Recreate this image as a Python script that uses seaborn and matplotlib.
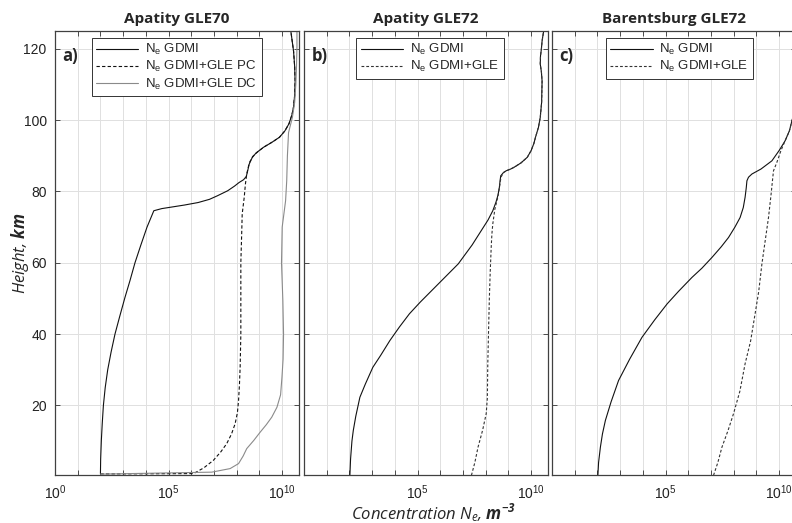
import numpy as np
import pandas as pd
from matplotlib import pyplot as plt
from matplotlib.ticker import FixedLocator, FuncFormatter, NullLocator
import seaborn as sns

# heights in km, concentrations as log10(N_e, m^-3)
a_gdmi_h = [0.9, 5, 10.2, 15, 20, 25, 30, 35, 40, 45, 50.3, 55, 60, 65, 70, 74.6, 75.2, 75.7,
            76.2, 76.9, 77.8, 78.8, 80.2, 81.5, 82.5, 83.3, 84.2, 85.5, 87.7, 89.5, 90.8, 92.4,
            93.8, 95.2, 97, 99, 101.5, 103.7, 107, 111, 115, 119.4, 125]
a_gdmi = [2.0, 2.01, 2.04, 2.08, 2.13, 2.21, 2.32, 2.47, 2.64, 2.85, 3.08, 3.3, 3.52, 3.78, 4.05,
          4.35, 4.7, 5.2, 5.7, 6.3, 6.8, 7.15, 7.6, 7.9, 8.1, 8.3, 8.42, 8.47, 8.55, 8.68, 8.85,
          9.18, 9.55, 9.88, 10.12, 10.3, 10.43, 10.5, 10.55, 10.57, 10.55, 10.5, 10.38]
a_pc_h = [0.8, 0.9, 2.5, 4.6, 7, 9.3, 12, 14.9, 18, 21.4, 26, 30.8, 40, 50, 60, 68.7, 73.7, 78.4,
          82, 84.9, 88, 89.8, 91, 92.4, 93.8, 95.2, 97, 99, 101.5, 103.7, 107, 111, 115, 119.4, 125]
a_pc = [2.0, 6.1, 6.55, 6.97, 7.3, 7.56, 7.77, 7.93, 8.03, 8.08, 8.12, 8.15, 8.18, 8.18, 8.18,
        8.22, 8.24, 8.33, 8.38, 8.44, 8.55, 8.7, 8.9, 9.18, 9.55, 9.88, 10.12, 10.3, 10.43, 10.5,
        10.55, 10.57, 10.55, 10.5, 10.38]
a_dc_h = [0.75, 1.3, 2.3, 3.7, 5.8, 7.9, 10.2, 12.5, 14.6, 16.7, 19.5, 23, 27.9, 33, 40, 49.4,
          60, 70, 77.4, 83, 90, 96.5, 100.8, 105, 110, 115, 120.4, 125]
a_dc = [2.0, 6.9, 7.71, 8.08, 8.28, 8.44, 8.75, 9.03, 9.3, 9.54, 9.77, 9.93, 9.99, 10.04, 10.06,
        10.03, 9.97, 10.0, 10.15, 10.2, 10.23, 10.28, 10.45, 10.55, 10.6, 10.63, 10.65, 10.65]

b_gdmi_h = [0.4, 5, 10, 13, 17, 22.3, 26, 30.7, 34, 38.2, 42, 45.7, 49, 53.1, 59.7, 65, 69, 72,
            74.6, 77, 79, 81.2, 83, 84.4, 85.3, 85.8, 86.3, 86.8, 88, 89.6, 91.5, 93.5, 95.2, 98,
            100.8, 105, 111, 113.5, 115.7, 118, 120, 122.2, 125]
b_gdmi = [2.02, 2.05, 2.11, 2.17, 2.28, 2.46, 2.7, 3.03, 3.37, 3.78, 4.2, 4.64, 5.12, 5.76,
          6.79, 7.4, 7.8, 8.1, 8.31, 8.45, 8.54, 8.6, 8.63, 8.66, 8.78, 8.9, 9.1, 9.25, 9.55, 9.83,
          10.0, 10.12, 10.19, 10.32, 10.4, 10.46, 10.48, 10.45, 10.4, 10.41, 10.45, 10.48, 10.55]
b_gle_h = [0.4, 4, 8.3, 13, 17.7, 22, 31.7, 40, 50.3, 58, 64.3, 68, 70.9, 75, 78.4, 81, 84,
           85.3, 85.8, 86.3, 86.8, 88, 89.6, 91.5, 93.5, 95.2, 98, 100.8, 105, 111, 113.5, 115.7,
           118, 120, 122.2, 125]
b_gle = [7.37, 7.52, 7.66, 7.86, 8.02, 8.07, 8.09, 8.12, 8.16, 8.2, 8.24, 8.27, 8.31, 8.4, 8.53,
         8.6, 8.67, 8.78, 8.9, 9.1, 9.25, 9.55, 9.83, 10.0, 10.12, 10.19, 10.32, 10.4, 10.46,
         10.48, 10.45, 10.4, 10.41, 10.45, 10.48, 10.55]

c_gdmi_h = [0.4, 4, 8.3, 12, 15.8, 21, 27, 33, 39.1, 44, 48.5, 52, 55.9, 58.5, 61.5, 64.5, 67.1,
            70, 72.7, 75.5, 78.4, 81, 83, 84, 84.9, 86.3, 88.6, 91.5, 94.2, 97, 99.8, 103, 110, 125]
c_gdmi = [2.02, 2.05, 2.13, 2.22, 2.35, 2.6, 2.93, 3.42, 3.96, 4.52, 5.07, 5.57, 6.16, 6.6, 7.04,
          7.45, 7.77, 8.05, 8.28, 8.42, 8.5, 8.55, 8.58, 8.65, 8.8, 9.2, 9.68, 10.0, 10.26, 10.45,
          10.56, 10.7, 10.78, 10.85]
c_gle_h = [0.4, 4, 8.3, 13, 17.7, 24, 31.7, 38, 45.7, 52, 59.7, 66, 72.7, 79, 84, 85.8, 88.2,
           91.5, 94.2, 97, 99.8, 103, 110, 125]
c_gle = [7.11, 7.3, 7.48, 7.75, 7.99, 8.27, 8.5, 8.74, 8.94, 9.1, 9.24, 9.38, 9.53, 9.64, 9.72,
         9.75, 9.9, 10.08, 10.26, 10.45, 10.56, 10.7, 10.78, 10.85]

titles = ["Apatity GLE70", "Apatity GLE72", "Barentsburg GLE72"]
panel_tags = ["a)", "b)", "c)"]

sns.set_style("ticks")
plt.rcParams.update({
    "font.family": ["Liberation Sans", "DejaVu Sans"],
    "mathtext.fontset": "custom",
    "mathtext.rm": "Liberation Sans",
    "mathtext.it": "Open Sans:italic",
    "mathtext.bf": "Open Sans:bold:italic",
    "xtick.direction": "in",
    "ytick.direction": "in",
    "xtick.top": True,
    "ytick.right": True,
    "xtick.major.size": 3.5,
    "ytick.major.size": 3.5,
    "xtick.major.width": 0.6,
    "ytick.major.width": 0.6,
    "xtick.color": "#333333",
    "ytick.color": "#333333",
    "xtick.labelcolor": "#222222",
    "ytick.labelcolor": "#222222",
    "axes.edgecolor": "#404040",
    "axes.linewidth": 0.9,
})


def frame(h, logs, label):
    return pd.DataFrame({"h": h, "ne": np.power(10.0, logs), "label": label})


def decade_labels(show_zero):
    def fmt(v, pos):
        k = int(round(np.log10(v)))
        if k % 5 != 0 or (k == 0 and not show_zero):
            return ""
        return r"$\mathdefault{10^{%d}}$" % k
    return fmt


GDMI = "N$_\\mathrm{e}$ GDMI"
panels = [
    [(frame(a_gdmi_h, a_gdmi, GDMI), "-", "#111111"),
     (frame(a_pc_h, a_pc, GDMI + "+GLE PC"), (0, (3, 2)), "#111111"),
     (frame(a_dc_h, a_dc, GDMI + "+GLE DC"), "-", "#8a8a8a")],
    [(frame(b_gdmi_h, b_gdmi, GDMI), "-", "#111111"),
     (frame(b_gle_h, b_gle, GDMI + "+GLE"), (0, (2.5, 1.8)), "#333333")],
    [(frame(c_gdmi_h, c_gdmi, GDMI), "-", "#111111"),
     (frame(c_gle_h, c_gle, GDMI + "+GLE"), (0, (2.5, 1.8)), "#333333")],
]

W, H = 792, 523
fig = plt.figure(figsize=(W / 100, H / 100), dpi=100)
lefts = [55, 304, 552]
legend_x = [0.15, 0.215, 0.22]
xt = [10.0 ** k for k in range(0, 11)]

for i, series in enumerate(panels):
    ax = fig.add_axes([lefts[i] / W, 48 / H, 244 / W, 444 / H])
    for df, ls, col in series:
        sns.lineplot(data=df, x="ne", y="h", orient="y", sort=True, estimator=None,
                     ax=ax, color=col, linestyle=ls, linewidth=0.8, label=df["label"][0])
    ax.set_xscale("log")
    ax.set_xlim(1, 5.5e10)
    ax.set_ylim(0.5, 125)
    ax.xaxis.set_major_locator(FixedLocator(xt))
    ax.xaxis.set_minor_locator(NullLocator())
    ax.xaxis.set_major_formatter(FuncFormatter(decade_labels(i == 0)))
    ax.set_yticks([20, 40, 60, 80, 100, 120])
    ax.tick_params(labelsize=10, pad=6)
    if i > 0:
        ax.set_yticklabels([])
    ax.grid(True, color="#e0e0e0", linewidth=0.7)
    ax.set_axisbelow(True)
    ax.set_xlabel("")
    ax.set_ylabel("")
    ax.set_title(titles[i], fontfamily="Open Sans", fontweight="bold", fontsize=11, pad=6)
    ax.text(0.03, 0.965, panel_tags[i], transform=ax.transAxes, fontfamily="Open Sans",
            fontweight="bold", fontsize=12, va="top", ha="left")
    leg = ax.legend(loc="upper left", bbox_to_anchor=(legend_x[i], 0.985), fontsize=9.5,
                    frameon=True, fancybox=False, framealpha=1, edgecolor="#333333",
                    handlelength=3.2, handletextpad=0.5, borderpad=0.35, labelspacing=0.15,
                    borderaxespad=0)
    leg.get_frame().set_linewidth(0.7)

fig.text(20 / W, 1 - 253 / H, "Height, $\\mathbf{km}$", rotation=90, ha="center", va="center",
         fontfamily="Open Sans", fontstyle="italic", fontsize=12)
fig.text(433 / W, 1 - 513 / H, "Concentration $N_e$, $\\mathbf{m^{-3}}$", ha="center",
         va="center", fontfamily="Open Sans", fontstyle="italic", fontsize=12)

fig.savefig("out.png", dpi=100)
